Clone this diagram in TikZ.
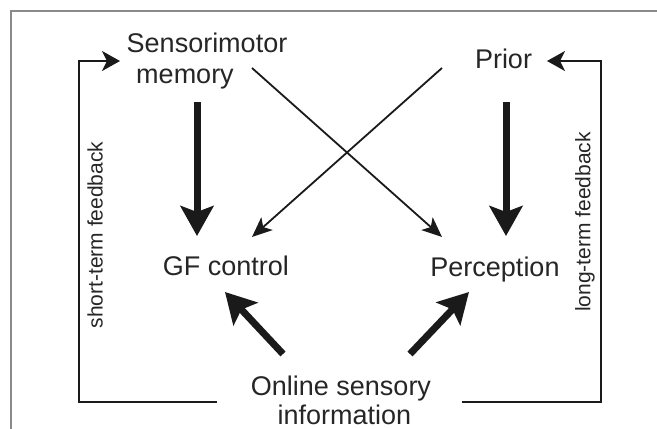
\documentclass[tikz,border=0pt]{standalone}
\usepackage{fontspec}
\setmainfont{Liberation Sans}
\usetikzlibrary{arrows.meta}
\definecolor{txt}{HTML}{262626}
\definecolor{ink}{HTML}{1A1A1A}
\definecolor{frame}{HTML}{8A8A8A}
\begin{document}
\begin{tikzpicture}[x=1pt,y=-1pt,
  lbl/.style={anchor=base,inner sep=0pt,text=txt,font=\fontsize{27}{31}\selectfont},
  smalllbl/.style={inner sep=0pt,text=txt,rotate=90,font=\fontsize{21}{24}\selectfont},
  thick arrow/.style={draw=ink,line width=7pt,-{Stealth[length=30pt,width=33pt,inset=6pt]}},
  thin arrow/.style={draw=ink,line width=1.8pt,-{Stealth[length=20pt,width=17pt,inset=5pt]}},
  fb/.style={draw=ink,line width=1.8pt},
  fbarrow/.style={draw=ink,line width=2pt,-{Stealth[length=18pt,width=20pt,inset=5pt]}}]
\useasboundingbox (0,0) rectangle (657,429);
\fill[white] (0,0) rectangle (657,429);
% frame
\draw[frame,line width=2pt] (11,429) -- (11,11) -- (657,11);
% labels
\node[lbl] (smm) at (207,52) {Sensorimotor};
\node[lbl] (smm2) at (185,83) {memory};
\node[lbl] (prior) at (503.5,68) {Prior};
\node[lbl] (gf) at (226,275) {GF control};
\node[lbl] (perc) at (495,276) {Perception};
\node[lbl] (osi) at (341,395) {Online sensory};
\node[lbl] (osi2) at (344.5,424) {information};
\node[smalllbl] (stf) at (95,235) {short-term feedback};
\node[smalllbl] (ltf) at (585,222) {long-term feedback};
% connector end points
\coordinate (smm-out) at (197,102);
\coordinate (gf-in) at (197,236);
\coordinate (prior-out) at (506,102);
\coordinate (perc-in) at (506,236);
\coordinate (mem-x) at (252,68);
\coordinate (perc-x) at (442,237);
\coordinate (prior-x) at (442,68);
\coordinate (gf-x) at (252,237);
\coordinate (osi-l) at (283,354);
\coordinate (gf-b) at (225,292);
\coordinate (osi-r) at (410,354);
\coordinate (perc-b) at (469,292);
\coordinate (stf-b) at (217,402);
\coordinate (stf-c1) at (79,402);
\coordinate (stf-c2) at (79,61);
\coordinate (smm-in) at (120,61);
\coordinate (ltf-b) at (462,402);
\coordinate (ltf-c1) at (601,402);
\coordinate (ltf-c2) at (601,61);
\coordinate (prior-in) at (547,61);
% thick arrows
\draw[thick arrow] (smm-out) -- (gf-in);
\draw[thick arrow] (prior-out) -- (perc-in);
\draw[thick arrow] (osi-l) -- (gf-b);
\draw[thick arrow] (osi-r) -- (perc-b);
% thin crossing arrows
\draw[thin arrow] (mem-x) -- (perc-x);
\draw[thin arrow] (prior-x) -- (gf-x);
% feedback loops
\draw[fbarrow] (stf-b) -- (stf-c1) -- (stf-c2) -- (smm-in);
\draw[fbarrow] (ltf-b) -- (ltf-c1) -- (ltf-c2) -- (prior-in);
\end{tikzpicture}
\end{document}
